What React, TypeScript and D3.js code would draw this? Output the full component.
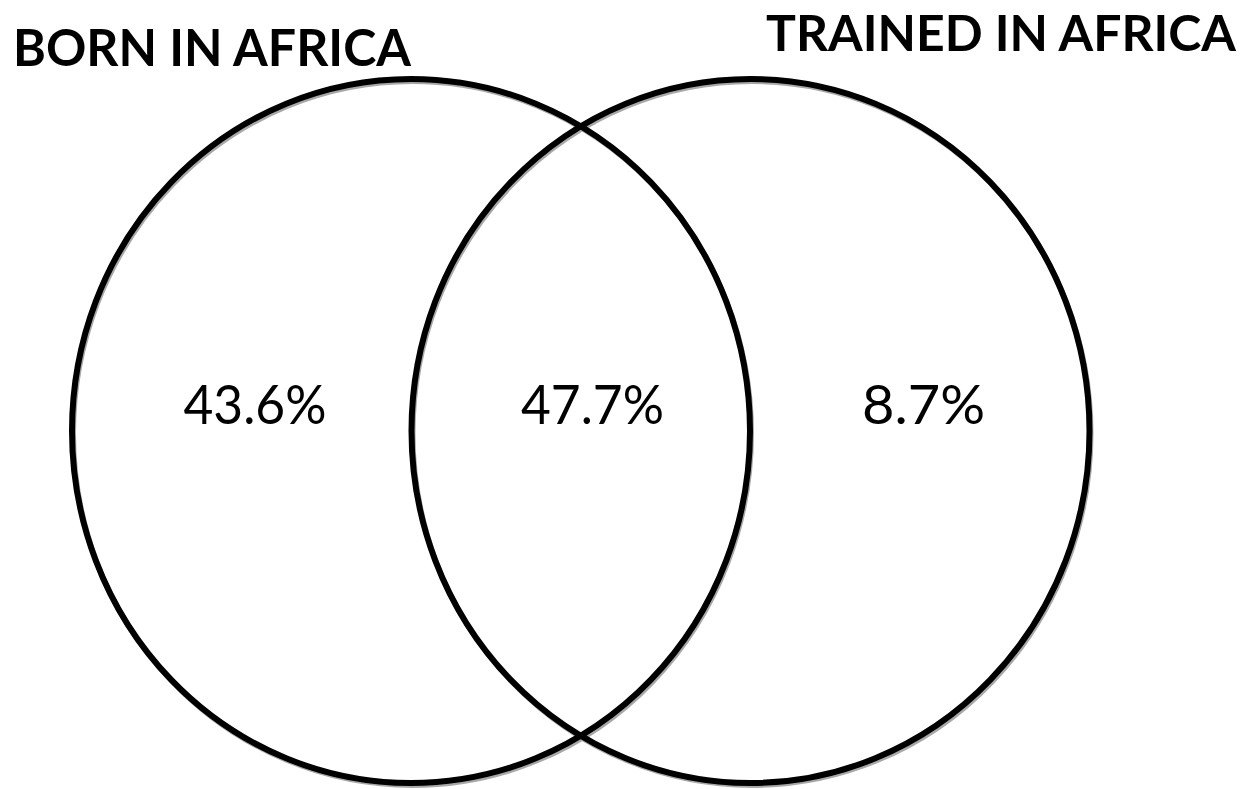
import React from "react";
import * as d3 from "d3";

const setLabels = ["BORN IN AFRICA", "TRAINED IN AFRICA"];
const regionKeys = ["bornOnly", "both", "trainedOnly"];
const regionValues = [43.6, 47.7, 8.7];

const W = 1244;
const H = 789;

export default function App() {
  // layout geometry (pixel space)
  const x = d3.scaleLinear().domain([0, 1]).range([411, 750.5]);
  const cy = 431;
  const rx = 339;
  const ry = 352;
  const centers = [x(0), x(1)];
  const fmt = (v: number) => d3.format(".1f")(v) + "%";
  const regionX = d3.scaleOrdinal<string, number>().domain(regionKeys).range([255, 592.5, 923.5]);
  const regionW = [143, 143, 123];

  const titlePos = [
    { x: 13, y: 66, w: 398, fs: 52 },
    { x: 766, y: 51, w: 470, fs: 49 },
  ];

  return (
    <svg
      width={W}
      height={H}
      style={{ position: "absolute", left: 0, top: 0, display: "block", background: "#fff" }}
    >
      <rect width={W} height={H} fill="#fff" />
      {centers.map((cx, i) => (
        <ellipse key={"s" + i} cx={cx + 1.5} cy={cy + 2.5} rx={rx} ry={ry} fill="none" stroke="#a8a8a8" strokeWidth={5} />
      ))}
      {centers.map((cx, i) => (
        <ellipse key={"c" + i} cx={cx} cy={cy} rx={rx} ry={ry} fill="none" stroke="#000" strokeWidth={6} />
      ))}
      {setLabels.map((t, i) => (
        <text
          key={t}
          x={titlePos[i].x}
          y={titlePos[i].y}
          textLength={titlePos[i].w}
          lengthAdjust="spacingAndGlyphs"
          fontFamily="Lato, 'Open Sans', sans-serif"
          fontWeight={700}
          fontSize={titlePos[i].fs}
          fill="#000"
        >
          {t}
        </text>
      ))}
      {regionKeys.map((k, i) => (
        <text
          key={k}
          x={regionX(k)}
          y={424}
          textAnchor="middle"
          textLength={regionW[i]}
          lengthAdjust="spacingAndGlyphs"
          fontFamily="Lato, 'Open Sans', sans-serif"
          fontWeight={400}
          fontSize={54}
          fill="#000"
        >
          {fmt(regionValues[i])}
        </text>
      ))}
    </svg>
  );
}
